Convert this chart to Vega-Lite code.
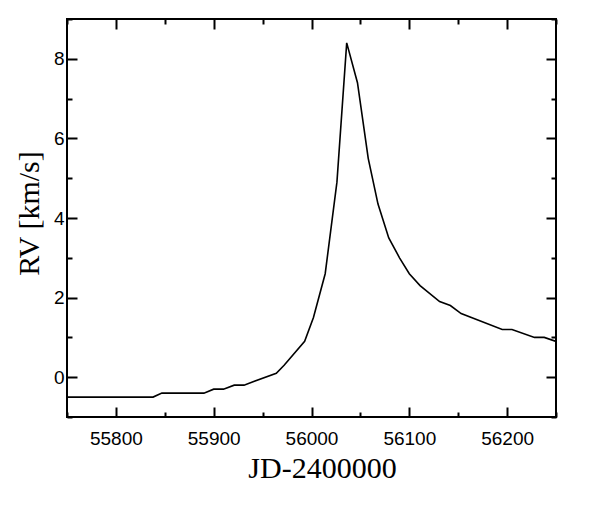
{
  "$schema": "https://vega.github.io/schema/vega-lite/v6.json",
  "autosize": {"type": "none"},
  "width": 489,
  "height": 398,
  "padding": {"left": 67, "top": 19, "right": 58, "bottom": 95},
  "background": "white",
  "config": {
    "view": {"stroke": "black", "strokeWidth": 2},
    "axis": {
      "domain": false, "tickColor": "black", "tickWidth": 2,
      "grid": false, "labelFont": "Liberation Sans", "labelFontSize": 19, "labelColor": "black",
      "titleFont": "Liberation Serif", "titleFontSize": 30, "titleFontWeight": "normal", "titleColor": "black"
    }
  },
  "data": {"values": [
    {"jd": 55750, "rv": -0.5}, {"jd": 55838, "rv": -0.5}, {"jd": 55847, "rv": -0.4},
    {"jd": 55890, "rv": -0.4}, {"jd": 55900, "rv": -0.3}, {"jd": 55910, "rv": -0.3},
    {"jd": 55921, "rv": -0.2}, {"jd": 55931, "rv": -0.2}, {"jd": 55964, "rv": 0.1},
    {"jd": 55972, "rv": 0.3}, {"jd": 55993, "rv": 0.9}, {"jd": 56002, "rv": 1.5},
    {"jd": 56014, "rv": 2.6}, {"jd": 56026, "rv": 4.9}, {"jd": 56036, "rv": 8.4},
    {"jd": 56047, "rv": 7.4}, {"jd": 56058, "rv": 5.5}, {"jd": 56068, "rv": 4.35},
    {"jd": 56079, "rv": 3.5}, {"jd": 56090, "rv": 3.0}, {"jd": 56100, "rv": 2.6},
    {"jd": 56111, "rv": 2.3}, {"jd": 56131, "rv": 1.9}, {"jd": 56142, "rv": 1.8},
    {"jd": 56153, "rv": 1.6}, {"jd": 56195, "rv": 1.2}, {"jd": 56205, "rv": 1.2},
    {"jd": 56228, "rv": 1.0}, {"jd": 56238, "rv": 1.0}, {"jd": 56250, "rv": 0.9}
  ]},
  "layer": [
    {
      "mark": {"type": "line", "color": "black", "strokeWidth": 1.6, "clip": true},
      "encoding": {
        "x": {"field": "jd", "type": "quantitative", "title": "JD-2400000",
          "scale": {"domain": [55750, 56250], "nice": false, "zero": false},
          "axis": {"orient": "top", "offset": -398,
            "values": [55750, 55800, 55850, 55900, 55950, 56000, 56050, 56100, 56150, 56200, 56250],
            "format": "d", "labelExpr": "datum.value % 100 === 0 ? datum.label : ''",
            "tickSize": {"condition": {"test": "datum.value % 100 === 0", "value": 10}, "value": 5},
            "labelBaseline": "top", "labelPadding": -22, "labelFlush": false,
            "titleX": 255, "titleY": 60, "titleAnchor": "start", "titleAlign": "center", "titleBaseline": "alphabetic"}},
        "y": {"field": "rv", "type": "quantitative", "title": "RV [km/s]",
          "scale": {"domain": [-1, 9], "nice": false, "zero": false},
          "axis": {"orient": "right", "offset": -489,
            "values": [-1, 0, 1, 2, 3, 4, 5, 6, 7, 8, 9],
            "labelExpr": "datum.value % 2 === 0 ? datum.label : ''",
            "tickSize": {"condition": {"test": "datum.value % 2 === 0", "value": 10}, "value": 5},
            "labelAlign": "right", "labelPadding": -13, "labelFlush": false,
            "titleAngle": -90, "titleX": -29, "titleY": 194, "titleAlign": "center", "titleBaseline": "alphabetic"}}
      }
    },
    {
      "mark": {"type": "line", "color": "black", "strokeOpacity": 0, "clip": true},
      "encoding": {
        "x": {"field": "jd", "type": "quantitative",
          "axis": {"orient": "bottom", "offset": -398,
            "values": [55750, 55800, 55850, 55900, 55950, 56000, 56050, 56100, 56150, 56200, 56250],
            "labels": false, "title": null,
            "tickSize": {"condition": {"test": "datum.value % 100 === 0", "value": 10}, "value": 5}}},
        "y": {"field": "rv", "type": "quantitative",
          "axis": {"orient": "left", "offset": -489,
            "values": [-1, 0, 1, 2, 3, 4, 5, 6, 7, 8, 9],
            "labels": false, "title": null,
            "tickSize": {"condition": {"test": "datum.value % 2 === 0", "value": 10}, "value": 5}}}
      }
    }
  ],
  "resolve": {"axis": {"x": "independent", "y": "independent"}}
}
